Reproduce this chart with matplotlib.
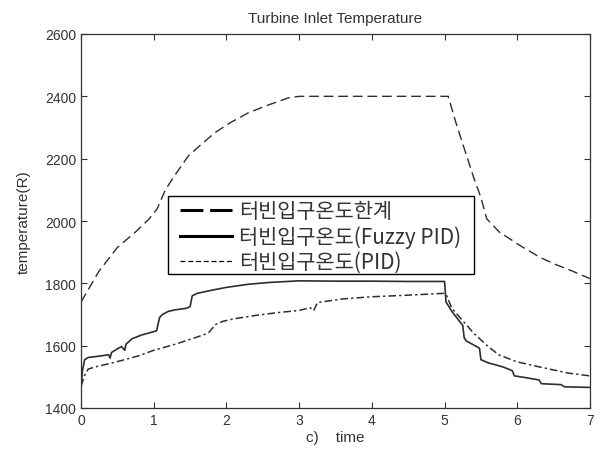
import matplotlib
matplotlib.use("Agg")
import matplotlib.pyplot as plt
from matplotlib.lines import Line2D
from matplotlib.patches import Rectangle

plt.rcParams['font.family'] = ['Liberation Sans', 'Noto Sans CJK KR', 'DejaVu Sans']

# ---- data ----
limit_t = [0, 0.25, 0.5, 0.75, 0.93, 1.05, 1.16, 1.3, 1.48, 1.65, 1.84, 2.05, 2.3, 2.55, 2.85, 3.0,
           5.0, 5.05, 5.15, 5.26, 5.4, 5.5, 5.58, 5.75, 6.04, 6.3, 6.5, 6.75, 7.0]
limit_T = [1740, 1840, 1915, 1965, 2005, 2040, 2100, 2150, 2210, 2245, 2283, 2315, 2347, 2370, 2395, 2400,
           2400, 2400, 2320, 2240, 2140, 2075, 2007, 1965, 1921, 1885, 1863, 1840, 1815]

fuzzy_t = [0, 0.02, 0.05, 0.1, 0.3, 0.38, 0.40, 0.42, 0.5, 0.56, 0.6, 0.62, 0.7, 0.83, 1.0, 1.04, 1.08,
           1.12, 1.2, 1.3, 1.45, 1.5, 1.53, 1.6, 1.8, 2.0, 2.3, 2.6, 3.0, 3.5, 4.0, 4.5, 5.0, 5.02, 5.1,
           5.25, 5.27, 5.3, 5.48, 5.5, 5.6, 5.8, 5.93, 5.96, 6.1, 6.3, 6.33, 6.6, 6.65, 7.0]
fuzzy_T = [1460, 1520, 1555, 1562, 1568, 1571, 1560, 1578, 1590, 1597, 1585, 1605, 1622, 1634, 1645, 1648, 1690,
           1700, 1710, 1715, 1720, 1725, 1760, 1768, 1778, 1787, 1797, 1803, 1808, 1807, 1807, 1806, 1806, 1740, 1710,
           1665, 1625, 1615, 1592, 1555, 1545, 1532, 1520, 1503, 1498, 1490, 1478, 1475, 1468, 1466]

pid_t = [0, 0.05, 0.1, 0.2, 0.4, 0.6, 0.8, 1.0, 1.3, 1.6, 1.75, 1.85, 1.95, 2.1, 2.4, 2.7, 3.0, 3.15, 3.2,
         3.25, 3.3, 3.6, 4.0, 4.5, 5.0, 5.03, 5.1, 5.25, 5.4, 5.6, 5.75, 6.0, 6.3, 6.7, 7.0]
pid_T = [1470, 1505, 1525, 1532, 1543, 1555, 1568, 1585, 1605, 1628, 1640, 1668, 1678, 1686, 1697, 1706, 1713,
         1722, 1712, 1738, 1740, 1750, 1757, 1762, 1768, 1760, 1720, 1680, 1640, 1597, 1570, 1548, 1532, 1512, 1503]

labels = ['터빈입구온도한계', '터빈입구온도(Fuzzy PID)', '터빈입구온도(PID)']
x_ticks = [0, 1, 2, 3, 4, 5, 6, 7]
y_ticks = [1400, 1600, 1800, 2000, 2200, 2400, 2600]

# ---- figure ----
fig = plt.figure(figsize=(6.09, 4.52), dpi=100)
ax = fig.add_axes([81/609, 1 - 409/452, (590-81)/609, (409-35)/452])

c = '#2e2e2e'
ax.plot(limit_t, limit_T, color=c, lw=1.0, dashes=(7, 3.5))
ax.plot(fuzzy_t, fuzzy_T, color=c, lw=1.2)
ax.plot(pid_t, pid_T, color=c, lw=1.1, dashes=(5, 2, 1.5, 2))

ax.set_xlim(0, 7)
ax.set_ylim(1400, 2600)
ax.set_xticks(x_ticks)
ax.set_yticks(y_ticks)
ax.tick_params(direction='in', top=True, right=True, length=4, width=0.8,
               labelsize=10, colors='#333333', labelcolor='#333333')
for s in ax.spines.values():
    s.set_color('#333333')
    s.set_linewidth(0.9)

ax.set_title('Turbine Inlet Temperature', fontsize=11, color='#333333', pad=9)
ax.set_xlabel('c)    time', fontsize=11, color='#333333', labelpad=2)
ax.set_ylabel('temperature(R)', fontsize=11, color='#333333', labelpad=10)

# legend frame (box) and entries
box = Rectangle((0.171, 0.358), 0.601, 0.209, transform=ax.transAxes,
                facecolor='white', edgecolor='black', lw=1.0, zorder=4)
ax.add_patch(box)

handles = [
    Line2D([], [], color='black', lw=2.2, dashes=(7.5, 2.2)),
    Line2D([], [], color='black', lw=2.2),
    Line2D([], [], color='black', lw=0.9, dashes=(4, 2.2)),
]
leg = ax.legend(handles, labels, loc='upper left', bbox_to_anchor=(0.194, 0.556),
                borderaxespad=0, frameon=False,
                prop={'family': ['Noto Sans CJK KR', 'DejaVu Sans'], 'size': 15},
                handlelength=2.5, handletextpad=0.35, borderpad=0.0, labelspacing=0.15)
leg.set_zorder(5)
for t in leg.get_texts():
    t.set_color('#333333')

fig.savefig('out.png', dpi=100)
